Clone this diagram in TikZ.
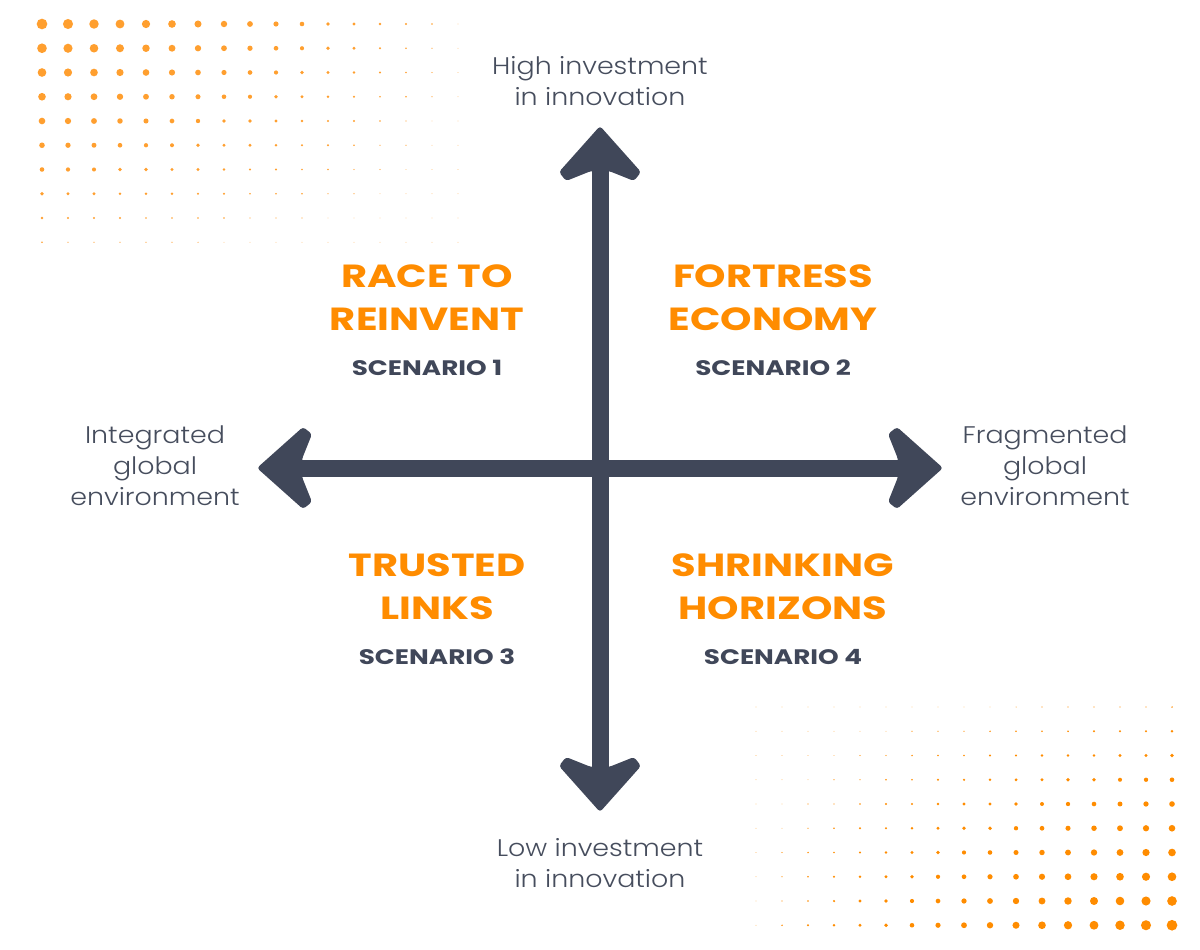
\documentclass[tikz,border=0pt]{standalone}
\usepackage{fontspec}
\setmainfont{Poppins}
\newfontfamily\lightfont{Poppins Light}[FakeStretch=1.12]
\newfontfamily\titlefont{Poppins Bold}[FakeStretch=1.25]
\definecolor{slate}{HTML}{404759}
\definecolor{labelgray}{HTML}{464D5D}
\definecolor{orng}{HTML}{FF8C00}
\definecolor{dotA}{HTML}{FF9F2F}
\tikzset{
  axishead/.pic={\fill[slate, rounded corners=3pt] (0,0) -- (41,46) -- (34,55) -- (9,45) -- (-9,45) -- (-34,55) -- (-41,46) -- cycle;},
}
\begin{document}
\begin{tikzpicture}[x=1pt,y=-1pt,
  axislabel/.style={font=\lightfont\fontsize{24}{31}\selectfont, text=labelgray, align=center, inner sep=0pt},
  quadtitle/.style={font=\titlefont\fontsize{32}{43}\selectfont, text=orng, align=center, inner sep=0pt},
  scen/.style={font=\titlefont\fontsize{21}{24}\selectfont, text=slate, inner sep=0pt},
  shaft/.style={draw=slate, line width=17pt}]
\useasboundingbox (0,0) rectangle (1200,950);
% dot fields
\foreach \i in {0,...,16}{
  \foreach \j in {0,...,9}{
    \pgfmathsetmacro\ra{max(0.3,5.35*(1-\i/17.5)*(1-\j/10.5))}
    \fill[dotA] ({42+26*\i},{24+24.25*\j}) circle[radius=\ra pt];
    \pgfmathsetmacro\rb{max(0.3,5.35*(1-(16-\i)/17.5)*(1-(9-\j)/10.5))}
    \fill[orng] ({756+26*\i},{707+24.25*\j}) circle[radius=\rb pt];
  }
}
% axes
\coordinate (toptip) at (600,126);
\coordinate (bottip) at (600,812);
\coordinate (lefttip) at (257,468);
\coordinate (righttip) at (943,468);
\coordinate (topbase) at (600,160);
\coordinate (botbase) at (600,778);
\coordinate (leftbase) at (291,468);
\coordinate (rightbase) at (909,468);
\draw[shaft] (topbase) -- (botbase);
\draw[shaft] (leftbase) -- (rightbase);
\pic at (toptip) {axishead};
\pic[rotate=180] at (bottip) {axishead};
\pic[rotate=90] at (lefttip) {axishead};
\pic[rotate=-90] at (righttip) {axishead};
% axis labels
\node[axislabel] (high) at (600,81.5) {High investment\\in innovation};
\node[axislabel] (low) at (600,863.5) {Low investment\\in innovation};
\node[axislabel] (integ) at (155,466) {Integrated\\global\\environment};
\node[axislabel] (frag) at (1045,466) {Fragmented\\global\\environment};
% quadrants
\node[quadtitle] (q1) at (427,297.5) {RACE TO\\REINVENT};
\node[scen] (s1) at (427,368) {SCENARIO 1};
\node[quadtitle] (q2) at (773,297.5) {FORTRESS\\ECONOMY};
\node[scen] (s2) at (773,368) {SCENARIO 2};
\node[quadtitle] (q3) at (437,586.5) {TRUSTED\\LINKS};
\node[scen] (s3) at (437,657) {SCENARIO 3};
\node[quadtitle] (q4) at (783,586.5) {SHRINKING\\HORIZONS};
\node[scen] (s4) at (783,657) {SCENARIO 4};
\end{tikzpicture}
\end{document}
